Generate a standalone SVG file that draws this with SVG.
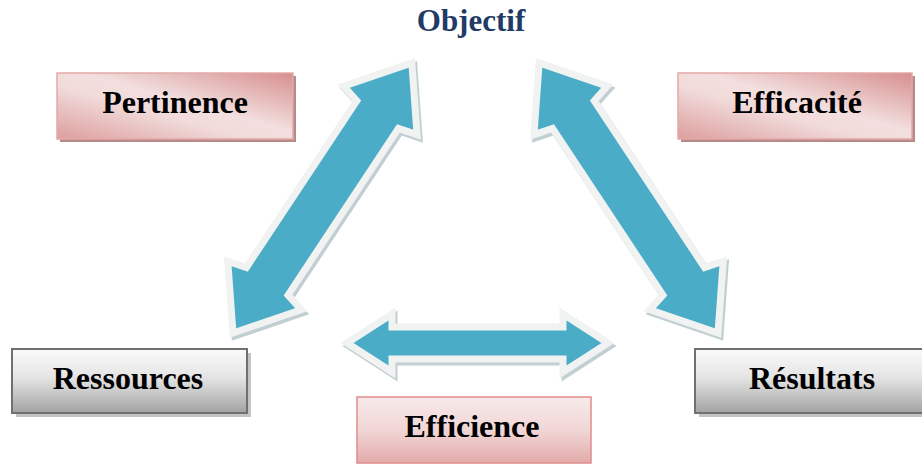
<svg xmlns="http://www.w3.org/2000/svg" width="922" height="465" viewBox="0 0 922 465">
<defs>
<linearGradient id="pink" x1="1" y1="0" x2="0" y2="1">
<stop offset="0" stop-color="#d68f8e"/>
<stop offset="0.45" stop-color="#f3dfdf"/>
<stop offset="0.6" stop-color="#f1dada"/>
<stop offset="1" stop-color="#dc9e9d"/>
</linearGradient>
<linearGradient id="pinkv" x1="0" y1="0" x2="0" y2="1">
<stop offset="0" stop-color="#f8eaea"/>
<stop offset="0.5" stop-color="#f1d6d6"/>
<stop offset="1" stop-color="#e3aaaa"/>
</linearGradient>
<linearGradient id="grey" x1="0" y1="0" x2="0" y2="1">
<stop offset="0" stop-color="#fbfbfb"/>
<stop offset="0.45" stop-color="#e4e4e4"/>
<stop offset="1" stop-color="#a3a3a3"/>
</linearGradient>
<polygon id="diag" points="0,0 57,-44 62,-25 262,-25 267,-44 324,0 267,44 262,25 62,25 57,44"/>
</defs>
<style>
.lbl{font-family:"Liberation Serif","Times New Roman",serif;font-weight:bold;font-size:32px;fill:#000;text-anchor:middle}
.obj{font-family:"Liberation Serif","Times New Roman",serif;font-weight:bold;font-size:31px;fill:#1f3b66;text-anchor:middle}
.pbox{fill:url(#pink);stroke:#e3a9a8;stroke-width:1.5}
.pboxv{fill:url(#pinkv);stroke:#e08c8c;stroke-width:1.5}
.gbox{fill:url(#grey);stroke:#707070;stroke-width:2}
.shp{fill:#b78a8a}
.shg{fill:#c4c4c4}
.arr{fill:#4aacc6;stroke:#f1f2f2;stroke-width:7;stroke-linejoin:miter}
.arrsh{fill:none;stroke:#8fa7ad;stroke-width:7;opacity:0.55}
</style>
<g id="connectors">
<g id="arrow-left">
<g transform="translate(2,3)"><use href="#diag" class="arrsh" transform="translate(233,333) rotate(-56.5)"/></g>
<use href="#diag" class="arr" transform="translate(233,333) rotate(-56.5)"/>
</g>
<g id="arrow-right">
<g transform="translate(2,3)"><use href="#diag" class="arrsh" transform="translate(718,333) rotate(-123.5) scale(1,-1)"/></g>
<use href="#diag" class="arr" transform="translate(718,333) rotate(-123.5) scale(1,-1)"/>
</g>
<g id="arrow-bottom">
<polygon class="arrsh" transform="translate(2,3)" points="347,343 392,314 392,327 563,327 563,314 608,343 563,372 563,359 392,359 392,372"/>
<polygon class="arr" points="347,343 392,314 392,327 563,327 563,314 608,343 563,372 563,359 392,359 392,372"/>
</g>
</g>
<g id="objectif">
<text class="obj" x="471" y="31">Objectif</text>
</g>
<g id="pertinence">
<rect class="shp" x="60" y="76" width="236" height="66"/>
<rect class="pbox" x="57" y="73" width="236" height="66"/>
<text class="lbl" x="175" y="113">Pertinence</text>
</g>
<g id="efficacite">
<rect class="shp" x="681" y="76" width="234" height="66"/>
<rect class="pbox" x="678" y="73" width="234" height="66"/>
<text class="lbl" x="797" y="113">Efficacité</text>
</g>
<g id="ressources">
<rect class="shg" x="16" y="353" width="235" height="64"/>
<rect class="gbox" x="12" y="349" width="235" height="64"/>
<text class="lbl" x="128" y="389">Ressources</text>
</g>
<g id="resultats">
<rect class="shg" x="699" y="353" width="225" height="64"/>
<rect class="gbox" x="695" y="349" width="230" height="64"/>
<text class="lbl" x="812" y="389">Résultats</text>
</g>
<g id="efficience">
<rect class="pboxv" x="357" y="397" width="234" height="66"/>
<text class="lbl" x="472" y="437">Efficience</text>
</g>
</svg>
